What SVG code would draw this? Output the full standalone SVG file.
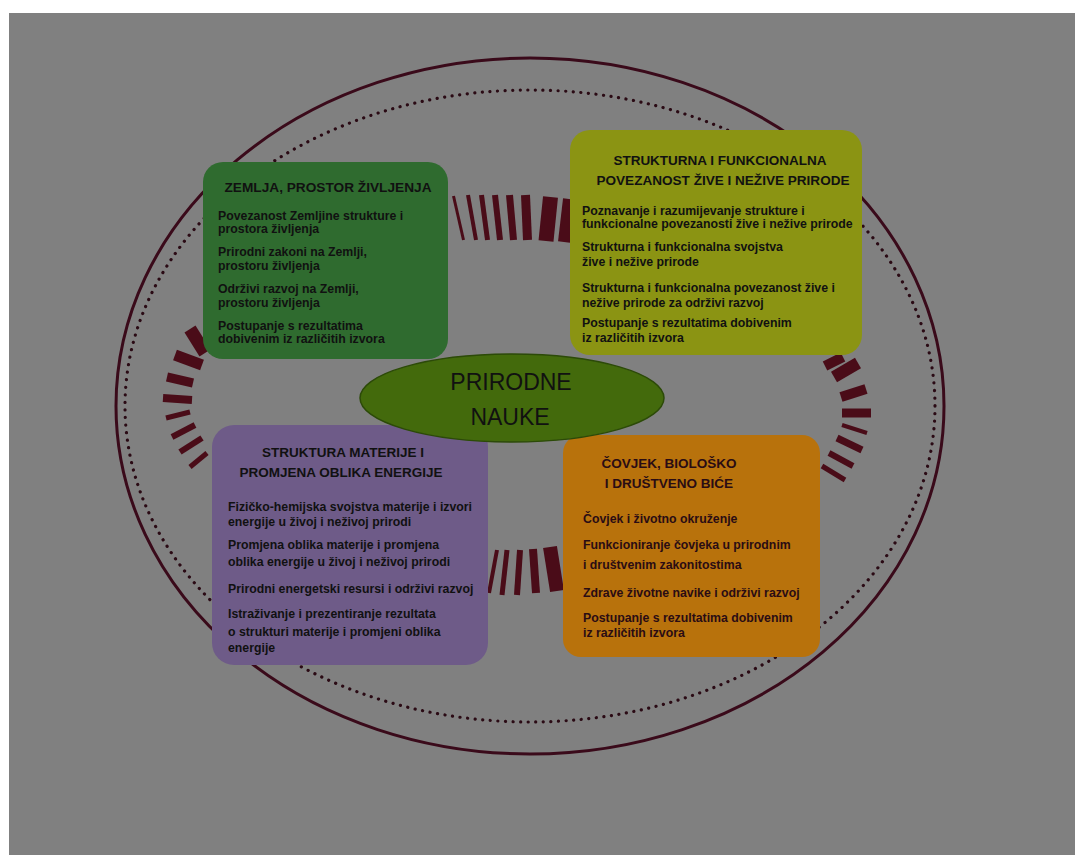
<svg xmlns="http://www.w3.org/2000/svg" width="1075" height="855" viewBox="0 0 1075 855">
<style>
.frame{fill:none;stroke:#3a0a1a;stroke-width:3}
.dots{fill:none;stroke:#2a0a14;stroke-width:3.2;stroke-dasharray:0.1 7.5;stroke-linecap:round}
.bar{stroke:#4a0c18;stroke-linecap:butt}
.ttl{font-family:"Liberation Sans",Arial,sans-serif;font-weight:bold;font-size:13.5px;fill:#111;text-anchor:middle}
.bd{font-family:"Liberation Sans",Arial,sans-serif;font-weight:bold;font-size:12.3px;fill:#111}
.or{fill:#2a0c14}
.ctr{font-family:"Liberation Sans",Arial,sans-serif;font-size:23px;fill:#111;text-anchor:middle}
</style>
<rect x="0" y="0" width="1075" height="855" fill="#ffffff"/>
<rect x="9" y="13" width="1066" height="842" fill="#808080"/>
<g id="frame">
<ellipse class="frame" cx="530" cy="406" rx="414" ry="348"/>
<ellipse class="dots" cx="530" cy="406" rx="405" ry="316"/>
</g>
<g id="connectors">
<g id="ring-top">
<line class="bar" x1="453.5" y1="196" x2="463.5" y2="240" stroke-width="3"/>
<line class="bar" x1="468" y1="195" x2="476" y2="240" stroke-width="4"/>
<line class="bar" x1="481.5" y1="195" x2="487.5" y2="240" stroke-width="5"/>
<line class="bar" x1="495" y1="195" x2="500" y2="240" stroke-width="6"/>
<line class="bar" x1="509.5" y1="195" x2="513.5" y2="240" stroke-width="7"/>
<line class="bar" x1="525.5" y1="195" x2="527.5" y2="240" stroke-width="9"/>
<line class="bar" x1="550.5" y1="197" x2="546" y2="241" stroke-width="15"/>
<line class="bar" x1="569" y1="199" x2="564" y2="242" stroke-width="12"/>
</g>
<g id="ring-left">
<line class="bar" x1="190" y1="329" x2="205" y2="353" stroke-width="13"/>
<line class="bar" x1="175" y1="355" x2="202" y2="365" stroke-width="11"/>
<line class="bar" x1="167" y1="377" x2="193" y2="383" stroke-width="9"/>
<line class="bar" x1="163" y1="398" x2="192" y2="400" stroke-width="8"/>
<line class="bar" x1="166" y1="418" x2="190" y2="412" stroke-width="5"/>
<line class="bar" x1="172" y1="437" x2="195" y2="425" stroke-width="6"/>
<line class="bar" x1="180" y1="452" x2="202" y2="438" stroke-width="6"/>
<line class="bar" x1="190" y1="467" x2="207" y2="453" stroke-width="5"/>
</g>
<g id="ring-right">
<line class="bar" x1="825" y1="366" x2="843" y2="357" stroke-width="10"/>
<line class="bar" x1="834" y1="377" x2="858" y2="363" stroke-width="12"/>
<line class="bar" x1="841" y1="397" x2="866" y2="389" stroke-width="10"/>
<line class="bar" x1="842" y1="413" x2="871" y2="413" stroke-width="9"/>
<line class="bar" x1="842" y1="425" x2="867" y2="433" stroke-width="4"/>
<line class="bar" x1="837" y1="438" x2="862" y2="450" stroke-width="7"/>
<line class="bar" x1="829" y1="453" x2="853" y2="466" stroke-width="6"/>
<line class="bar" x1="822" y1="466" x2="845" y2="480" stroke-width="5"/>
</g>
<g id="ring-bottom">
<line class="bar" x1="497" y1="550" x2="489" y2="593" stroke-width="4"/>
<line class="bar" x1="507" y1="550" x2="502" y2="595" stroke-width="5"/>
<line class="bar" x1="520" y1="550" x2="517" y2="595" stroke-width="6"/>
<line class="bar" x1="533" y1="549" x2="536" y2="593" stroke-width="8"/>
<line class="bar" x1="550" y1="547" x2="557" y2="591" stroke-width="14"/>
</g>
</g>
<g id="zemlja">
<rect x="203" y="162" width="245" height="197" rx="20" fill="#2f6b2f"/>
<text class="ttl" x="328" y="192" textLength="207" lengthAdjust="spacingAndGlyphs">ZEMLJA, PROSTOR ŽIVLJENJA</text>
<text class="bd" x="218" y="220">Povezanost Zemljine strukture i</text>
<text class="bd" x="218" y="233">prostora življenja</text>
<text class="bd" x="218" y="256">Prirodni zakoni na Zemlji,</text>
<text class="bd" x="218" y="270">prostoru življenja</text>
<text class="bd" x="218" y="293">Održivi razvoj na Zemlji,</text>
<text class="bd" x="218" y="307">prostoru življenja</text>
<text class="bd" x="218" y="330">Postupanje s rezultatima</text>
<text class="bd" x="218" y="343">dobivenim iz različitih izvora</text>
</g>
<g id="strukturna">
<rect x="570" y="130" width="292" height="225" rx="20" fill="#8b9413"/>
<text class="ttl" x="720" y="165">STRUKTURNA I FUNKCIONALNA</text>
<text class="ttl" x="723" y="185" textLength="253" lengthAdjust="spacingAndGlyphs">POVEZANOST ŽIVE I NEŽIVE PRIRODE</text>
<text class="bd" x="582" y="215">Poznavanje i razumijevanje strukture i</text>
<text class="bd" x="582" y="228">funkcionalne povezanosti  žive i nežive prirode</text>
<text class="bd" x="582" y="251">Strukturna i funkcionalna svojstva</text>
<text class="bd" x="582" y="266">žive i nežive prirode</text>
<text class="bd" x="582" y="292">Strukturna i funkcionalna povezanost žive i</text>
<text class="bd" x="582" y="307">nežive prirode za održivi razvoj</text>
<text class="bd" x="582" y="327">Postupanje s rezultatima dobivenim</text>
<text class="bd" x="582" y="342">iz različitih izvora</text>
</g>
<g id="materija">
<rect x="212" y="425" width="276" height="240" rx="22" fill="#6e5b88"/>
<text class="ttl" x="343" y="457">STRUKTURA MATERIJE I</text>
<text class="ttl" x="341" y="477">PROMJENA OBLIKA ENERGIJE</text>
<text class="bd" x="228" y="511">Fizičko-hemijska svojstva materije i izvori</text>
<text class="bd" x="228" y="526">energije u živoj i neživoj prirodi</text>
<text class="bd" x="228" y="549">Promjena oblika materije i promjena</text>
<text class="bd" x="228" y="566">oblika energije u živoj i neživoj prirodi</text>
<text class="bd" x="228" y="593">Prirodni energetski resursi i  održivi razvoj</text>
<text class="bd" x="228" y="618">Istraživanje i prezentiranje rezultata</text>
<text class="bd" x="228" y="636">o strukturi materije i promjeni oblika</text>
<text class="bd" x="228" y="652">energije</text>
</g>
<g id="covjek">
<rect x="563" y="435" width="257" height="222" rx="18" fill="#b8720c"/>
<text class="ttl or" x="669" y="468">ČOVJEK, BIOLOŠKO</text>
<text class="ttl or" x="669" y="488">I DRUŠTVENO BIĆE</text>
<text class="bd or" x="583" y="523">Čovjek i životno okruženje</text>
<text class="bd or" x="583" y="549">Funkcioniranje čovjeka u prirodnim</text>
<text class="bd or" x="583" y="569">i društvenim zakonitostima</text>
<text class="bd or" x="583" y="597">Zdrave životne navike i održivi razvoj</text>
<text class="bd or" x="583" y="622">Postupanje s rezultatima dobivenim</text>
<text class="bd or" x="583" y="637">iz različitih izvora</text>
</g>
<g id="prirodne-nauke">
<ellipse cx="512" cy="398" rx="152" ry="44" fill="#436a0c" stroke="#2c4a08" stroke-width="1.5"/>
<text class="ctr" x="511" y="390">PRIRODNE</text>
<text class="ctr" x="510" y="425">NAUKE</text>
</g>
</svg>
